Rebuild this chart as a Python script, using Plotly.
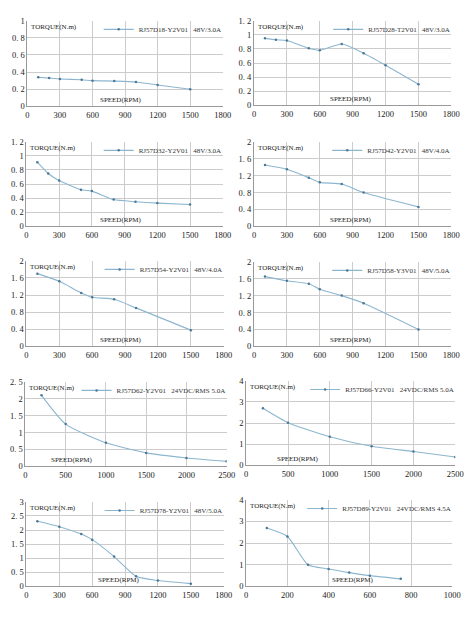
import plotly.graph_objects as go

W, H = 474, 619

# ---- data ----
names = [
    "RJ57D18-Y2V01   48V/3.0A",
    "RJ57D28-T2V01   48V/3.0A",
    "RJ57D32-Y2V01   48V/3.0A",
    "RJ57D42-Y2V01   48V/4.0A",
    "RJ57D54-Y2V01   48V/4.0A",
    "RJ57D58-Y3V01   48V/5.0A",
    "RJ57D62-Y2V01   24VDC/RMS 5.0A",
    "RJ57D66-Y2V01   24VDC/RMS 5.0A",
    "RJ57D78-Y2V01   48V/5.0A",
    "RJ57D89-Y2V01   24VDC/RMS 4.5A",
]
speed_1 = [100, 200, 300, 500, 600, 800, 1000, 1200, 1500]
torque_1 = [0.34, 0.33, 0.32, 0.31, 0.30, 0.295, 0.285, 0.25, 0.20]
speed_2 = [100, 200, 300, 500, 600, 800, 1000, 1200, 1500]
torque_2 = [0.95, 0.93, 0.92, 0.81, 0.78, 0.87, 0.74, 0.57, 0.30]
speed_3 = [100, 200, 300, 500, 600, 800, 1000, 1200, 1500]
torque_3 = [0.91, 0.75, 0.65, 0.52, 0.50, 0.38, 0.35, 0.33, 0.31]
speed_4 = [100, 300, 500, 600, 800, 1000, 1500]
torque_4 = [1.45, 1.35, 1.15, 1.04, 1.00, 0.80, 0.46]
speed_5 = [100, 300, 500, 600, 800, 1000, 1500]
torque_5 = [1.70, 1.52, 1.25, 1.15, 1.10, 0.90, 0.38]
speed_6 = [100, 300, 500, 600, 800, 1000, 1500]
torque_6 = [1.65, 1.55, 1.48, 1.35, 1.20, 1.02, 0.40]
speed_7 = [200, 500, 1000, 1500, 2000, 2500]
torque_7 = [2.10, 1.25, 0.70, 0.40, 0.25, 0.15]
speed_8 = [200, 500, 1000, 1500, 2000, 2500]
torque_8 = [2.70, 2.02, 1.36, 0.91, 0.66, 0.40]
speed_9 = [100, 300, 500, 600, 800, 1000, 1200, 1500]
torque_9 = [2.31, 2.12, 1.86, 1.66, 1.06, 0.36, 0.21, 0.10]
speed_10 = [100, 200, 300, 400, 500, 600, 750]
torque_10 = [2.70, 2.31, 1.00, 0.81, 0.64, 0.50, 0.35]

speeds = [speed_1, speed_2, speed_3, speed_4, speed_5, speed_6, speed_7, speed_8, speed_9, speed_10]
torques = [torque_1, torque_2, torque_3, torque_4, torque_5, torque_6, torque_7, torque_8, torque_9, torque_10]

x_ranges = [[0, 1800]] * 6 + [[0, 2500], [0, 2500], [0, 1800], [0, 1000]]
x_dticks = [300] * 6 + [500, 500, 300, 200]
y_ranges = [[0, 1], [0, 1.2], [0, 1.2], [0, 2], [0, 2], [0, 2], [0, 2.5], [0, 4], [0, 3], [0, 4]]
y_dticks = [0.2, 0.2, 0.2, 0.4, 0.4, 0.4, 0.5, 1, 0.5, 1]
# ---- layout (pixel boxes: x0, x1, y0(top), y1(bottom)) ----
boxes = [
    (26, 226, 16, 103), (258, 460, 16, 102),
    (25, 226, 139, 225), (258, 460, 139, 225),
    (25, 227, 260, 347), (258, 460, 261, 347),
    (24, 230, 383, 469), (250, 464, 382, 468),
    (25, 227, 505, 591), (250, 461, 503, 591),
]
speed_label_x = [0.48, 0.49, 0.48, 0.49, 0.48, 0.49, 0.23, 0.25, 0.47, 0.52]

FONT = "Liberation Serif"
LINE = "#8cb6cf"
MARK = "#4a7896"

fig = go.Figure()
layout = dict(
    width=W, height=H, margin=dict(l=0, r=0, t=0, b=0),
    paper_bgcolor="white", plot_bgcolor="white",
    font=dict(family=FONT, size=8, color="#222"),
    annotations=[],
)

def fmt(v):
    s = ("%g" % v)
    return s.replace(".", ". ")

for i in range(10):
    k = i + 1
    sfx = "" if k == 1 else str(k)
    x0, x1, yt, yb = boxes[i]
    dom_x = [x0 / W, x1 / W]
    dom_y = [1 - yb / H, 1 - yt / H]
    leg = "legend" if k == 1 else "legend%d" % k
    fig.add_trace(go.Scatter(
        x=speeds[i], y=torques[i], mode="lines+markers",
        line=dict(color=LINE, width=1.1, shape="spline", smoothing=0.6),
        marker=dict(color=MARK, size=2.5),
        name=names[i], xaxis="x" + sfx, yaxis="y" + sfx, legend=leg,
        showlegend=True,
    ))
    xr = x_ranges[i]
    yr = y_ranges[i]
    xt = list(range(xr[0], xr[1] + 1, x_dticks[i]))
    n = int(round((yr[1] - yr[0]) / y_dticks[i]))
    yt_vals = [round(yr[0] + j * y_dticks[i], 3) for j in range(n + 1)]
    layout["xaxis" + sfx] = dict(
        domain=dom_x, range=xr, anchor="y" + sfx,
        tickvals=xt, ticktext=[str(v) for v in xt],
        showgrid=True, gridcolor="#cccccc", gridwidth=1,
        zeroline=False, showline=True, linecolor="#999", linewidth=1,
        ticks="", tickfont=dict(size=8.5, family=FONT, color="#222"),
    )
    layout["yaxis" + sfx] = dict(
        domain=dom_y, range=yr, anchor="x" + sfx,
        tickvals=yt_vals, ticktext=[fmt(v) for v in yt_vals],
        showgrid=True, gridcolor="#cccccc", gridwidth=1,
        zeroline=False, showline=True, linecolor="#999", linewidth=1,
        ticks="", tickfont=dict(size=8.5, family=FONT, color="#222"),
    )
    layout[leg] = dict(
        x=dom_x[1] + 4 / W, y=dom_y[1] + 6 / H, xanchor="right", yanchor="top",
        bgcolor="rgba(0,0,0,0)", borderwidth=0,
        font=dict(size=7, family=FONT, color="#333"), itemwidth=30,
        tracegroupgap=0,
    )
    layout["annotations"].append(dict(
        text="TORQUE(N.m)", xref="x" + sfx + " domain", yref="y" + sfx + " domain",
        x=0.01, y=1.0, xanchor="left", yanchor="top", showarrow=False,
        font=dict(size=7, family=FONT, color="#222"),
    ))
    layout["annotations"].append(dict(
        text="SPEED(RPM)", xref="x" + sfx + " domain", yref="y" + sfx + " domain",
        x=speed_label_x[i], y=0.0, xanchor="center", yanchor="bottom", showarrow=False,
        font=dict(size=7, family=FONT, color="#222"),
    ))

fig.update_layout(**layout)
fig.write_html("out.html", config={"displayModeBar": False},
               post_script="document.body.style.margin='0';")
